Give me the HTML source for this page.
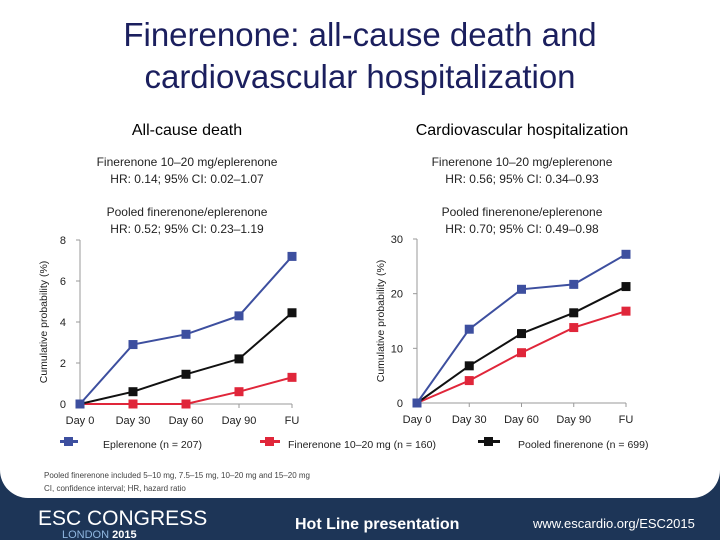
<!DOCTYPE html>
<html><head><meta charset="utf-8"><style>
body{margin:0;width:720px;height:540px;overflow:hidden;background:#1d3557;font-family:"Liberation Sans",sans-serif;}
#card{position:absolute;left:0;top:0;width:720px;height:498px;background:#fff;border-radius:0 0 28px 28px;}
.t{position:absolute;white-space:nowrap;}
</style></head><body>
<div id="card"></div>
<div class="t" style="left:0;width:720px;top:14px;text-align:center;font-size:33px;line-height:42px;color:#1b1f5e;">Finerenone: all-cause death and<br>cardiovascular hospitalization</div>
<svg id="chart" width="720" height="540" style="position:absolute;left:0;top:0" font-family="Liberation Sans, sans-serif">
<text x="187" y="135" font-size="16" text-anchor="middle">All-cause death</text>
<text x="522" y="135" font-size="16" text-anchor="middle">Cardiovascular hospitalization</text>
<g font-size="12" text-anchor="middle" fill="#222">
<text x="187" y="166">Finerenone 10–20 mg/eplerenone</text>
<text x="187" y="183">HR: 0.14; 95% CI: 0.02–1.07</text>
<text x="187" y="216">Pooled finerenone/eplerenone</text>
<text x="187" y="233">HR: 0.52; 95% CI: 0.23–1.19</text>
<text x="522" y="166">Finerenone 10–20 mg/eplerenone</text>
<text x="522" y="183">HR: 0.56; 95% CI: 0.34–0.93</text>
<text x="522" y="216">Pooled finerenone/eplerenone</text>
<text x="522" y="233">HR: 0.70; 95% CI: 0.49–0.98</text>
</g>
<g id="plots"></g>
<g font-size="10.5" fill="#222">
<rect x="60" y="440" width="18" height="3" fill="#3d4f9f"/>
<rect x="64" y="437" width="9" height="9" fill="#3d4f9f"/>
<text x="103" y="448">Eplerenone (n = 207)</text>
<rect x="260" y="440" width="20" height="3" fill="#e0263a"/>
<rect x="265" y="437" width="9" height="9" fill="#e0263a"/>
<text x="288" y="448">Finerenone 10–20 mg (n = 160)</text>
<rect x="478" y="440" width="22" height="3" fill="#111"/>
<rect x="484" y="437" width="9" height="9" fill="#111"/>
<text x="518" y="448">Pooled finerenone (n = 699)</text>
</g>
<g font-size="8" fill="#444">
<text x="44" y="478">Pooled finerenone included 5–10 mg, 7.5–15 mg, 10–20 mg and 15–20 mg</text>
<text x="44" y="491">CI, confidence interval; HR, hazard ratio</text>
</g>
<g fill="#fff">
<text x="38" y="525" font-size="21">ESC CONGRESS</text>
<text x="62" y="538" font-size="11" fill="#8fb6e0">LONDON <tspan fill="#fff" font-weight="bold">2015</tspan></text>
<text x="295" y="529" font-size="16" font-weight="bold">Hot Line presentation</text>
<text x="533" y="528" font-size="13">www.escardio.org/ESC2015</text>
</g>
</svg>
<script>
const categories=["Day 0","Day 30","Day 60","Day 90","FU"];
const leftTicks=[0,2,4,6,8];
const rightTicks=[0,10,20,30];
const leftEplerenone=[0,2.9,3.4,4.3,7.2];
const leftPooled=[0,0.6,1.45,2.2,4.45];
const leftFinerenone=[0,0,0,0.6,1.3];
const rightEplerenone=[0,13.5,20.8,21.7,27.2];
const rightPooled=[0,6.8,12.7,16.5,21.3];
const rightFinerenone=[0,4.1,9.2,13.8,16.8];
const NS="http://www.w3.org/2000/svg";
const g=document.getElementById('plots');
function mk(t,a){const e=document.createElementNS(NS,t);for(const k in a)e.setAttribute(k,a[k]);g.appendChild(e);return e;}
function panel(name,x0,x1,y0,y1,max,ticks,series){
  const sx=i=>x0+(x1-x0)*i/(categories.length-1);
  const sy=v=>y0-(y0-y1)*v/max;
  let e=mk('line',{x1:x0,y1:y1,x2:x0,y2:y0,stroke:'#999'});
  
  
  e=mk('line',{x1:x0,y1:y0,x2:x1,y2:y0,stroke:'#999'});
  
  
  ticks.forEach(t=>{
    const tl=mk('line',{x1:x0-4,y1:sy(t),x2:x0,y2:sy(t),stroke:'#999'});
    
    
    const tx=mk('text',{x:x0-14,y:sy(t)+4,'font-size':11,'text-anchor':'end',fill:'#222'});
    tx.textContent=t;
    
    
  });
  categories.forEach((c,i)=>{
    const tl=mk('line',{x1:sx(i),y1:y0,x2:sx(i),y2:y0+4,stroke:'#999'});
    
    
    const tx=mk('text',{x:sx(i),y:y0+20,'font-size':11,'text-anchor':'middle',fill:'#222'});
    tx.textContent=c;
    
    
  });
  const yt=mk('text',{x:0,y:0,'font-size':10.5,'text-anchor':'middle',fill:'#222',transform:`translate(${x0-33},${(y0+y1)/2}) rotate(-90)`});
  yt.textContent='Cumulative probability (%)';
  
  
  series.forEach(([sn,vals,col])=>{
    const pl=mk('polyline',{points:vals.map((v,i)=>sx(i)+','+sy(v)).join(' '),fill:'none',stroke:col,'stroke-width':2});
    
    
    vals.forEach((v,i)=>{
      const r=mk('rect',{x:sx(i)-4.5,y:sy(v)-4.5,width:9,height:9,fill:col});
      
      
    });
  });
}
panel('left-chart',80,292,404,240,8,leftTicks,[['finerenone',leftFinerenone,'#e0263a'],['pooled',leftPooled,'#111'],['eplerenone',leftEplerenone,'#3d4f9f']]);
panel('right-chart',417,626,403,239,30,rightTicks,[['finerenone',rightFinerenone,'#e0263a'],['pooled',rightPooled,'#111'],['eplerenone',rightEplerenone,'#3d4f9f']]);
</script>
</body></html>
